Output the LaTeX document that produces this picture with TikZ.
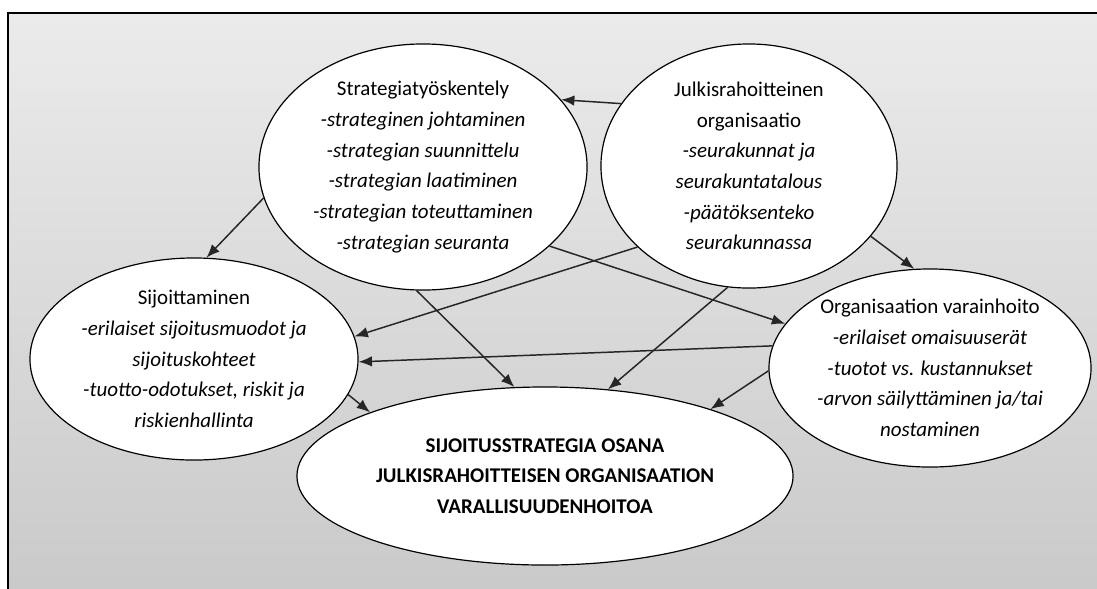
\documentclass[tikz,border=0pt]{standalone}
\usepackage{fontspec}
\setmainfont{Carlito}
\usetikzlibrary{arrows.meta,shapes.geometric}
\definecolor{bgtop}{HTML}{EBEBEB}
\definecolor{bgbot}{HTML}{C9C9C9}
\definecolor{linkgray}{HTML}{262626}
\begin{document}
\begin{tikzpicture}
  [x=0.025cm,y=-0.025cm,every node/.style={ellipse,draw=black,fill=white,line width=0.85pt,inner sep=0pt,align=center,font=\fontsize{14.9}{21.8}\selectfont}]
  \tikzstyle{link} = [draw=linkgray,line width=1.05pt,-{Latex[length=9.5pt,width=7.5pt]}]
  \useasboundingbox (0,0) rectangle (1097,588);
  \clip (0,0) rectangle (1097,588);
  \shade[top color=bgtop,bottom color=bgbot] (8,13) rectangle (1110,600);
  \draw[line width=1.5pt] (8,600) -- (8,13) -- (1110,13);
  \node[minimum width=8.2cm,minimum height=6.15cm] (S) at (423,167)
    {Strategiatyöskentely\\\textit{-strateginen johtaminen}\\\textit{-strategian suunnittelu}\\\textit{-strategian laatiminen}\\\textit{-strategian toteuttaminen}\\\textit{-strategian seuranta}};
  \node[minimum width=7.4cm,minimum height=6.1cm] (J) at (749,166)
    {Julkisrahoitteinen\\organisaatio\\\textit{-seurakunnat ja}\\\textit{seurakuntatalous}\\\textit{-päätöksenteko}\\\textit{seurakunnassa}};
  \node[minimum width=8.2cm,minimum height=5.05cm] (Si) at (194,359)
    {Sijoittaminen\\\textit{-erilaiset sijoitusmuodot ja}\\\textit{sijoituskohteet}\\\textit{-tuotto-odotukset, riskit ja}\\\textit{riskienhallinta}};
  \node[minimum width=8.05cm,minimum height=4.95cm] (O) at (930,368)
    {Organisaation varainhoito\\\textit{-erilaiset omaisuuserät}\\\textit{-tuotot vs. kustannukset}\\\textit{-arvon säilyttäminen ja/tai}\\\textit{nostaminen}};
  \node[minimum width=12.4cm,minimum height=4.45cm,font=\fontsize{14.9}{21.8}\selectfont\bfseries] (M) at (545,476)
    {SIJOITUSSTRATEGIA OSANA\\JULKISRAHOITTEISEN ORGANISAATION\\VARALLISUUDENHOITOA};
\foreach \source /\dest in {J.154/S.26,S.191/Si.83,S.328/O.163,S.267/M.109,J.216/Si.8,J.260/M.54,J.330/O.99,O.172/Si.359,O.181/M.22,Si.347/M.160}
   \draw[link] (\source) -- (\dest);

\end{tikzpicture}
\end{document}
